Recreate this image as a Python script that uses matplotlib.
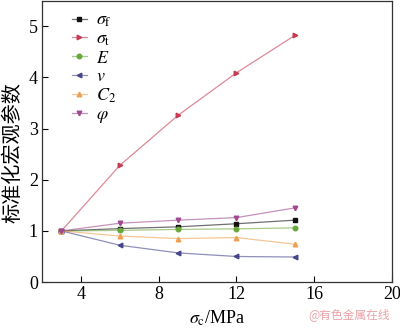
# -*- coding: utf-8 -*-
import numpy as np
import matplotlib
matplotlib.use('Agg')
import matplotlib.pyplot as plt

# ====================== Data ======================
sigma_c = [3, 6, 9, 12, 15]
sigma_f = [1.0, 1.045, 1.08, 1.14, 1.21]
sigma_t = [1.0, 2.28, 3.26, 4.09, 4.82]
E_mod = [1.0, 1.01, 1.03, 1.04, 1.06]
nu = [1.0, 0.72, 0.57, 0.50, 0.49]
C2 = [1.0, 0.90, 0.85, 0.87, 0.74]
phi = [1.0, 1.15, 1.21, 1.26, 1.45]

series = [
    (sigma_f, r'$\sigma_{\rm f}$', 's', '#111111'),
    (sigma_t, r'$\sigma_{\rm t}$', '>', '#c83a52'),
    (E_mod, r'$E$', 'o', '#6aa83c'),
    (nu, r'$v$', '<', '#45458a'),
    (C2, r'$C_2$', '^', '#f0a050'),
    (phi, r'$\varphi$', 'v', '#a04890'),
]

# ====================== Plot Settings ======================
plt.rcParams['font.family'] = ['Liberation Serif', 'Noto Sans CJK SC']
plt.rcParams['mathtext.fontset'] = 'stix'

fig = plt.figure(figsize=(4.0, 3.28), dpi=100)
ax = fig.add_axes([0.105, 0.14, 0.875, 0.858])

for vals, label, mk, c in series:
    rgb = matplotlib.colors.to_rgb(c)
    ax.plot(sigma_c, vals, color=(*rgb, 0.6), lw=0.9,
            marker=mk, markersize=3.3, markerfacecolor=c, markeredgecolor=c,
            label=label)

ax.set_xlim(2, 20)
ax.set_ylim(0, 5.5)
ax.set_xticks([4, 8, 12, 16, 20])
ax.set_yticks([0, 1, 2, 3, 4, 5])
ax.tick_params(direction='in', length=4, width=0.8, labelsize=13, pad=3)
for s in ax.spines.values():
    s.set_linewidth(0.9)
    s.set_color('#333333')

ax.set_xlabel(r'$\sigma_{\rm c}$/MPa', fontsize=13, labelpad=4)
ax.set_ylabel('标准化宏观参数', fontsize=14.5, family=['Noto Sans CJK SC'])
ax.yaxis.set_label_coords(-0.052, 0.46)

ax.legend(loc='upper left', bbox_to_anchor=(0.086, 0.96), frameon=False,
          fontsize=13, borderpad=0, borderaxespad=0, handlelength=0.8,
          handletextpad=0.5, labelspacing=0.08)

fig.text(0.77, 0.03, '@有色金属在线', fontsize=8.5, color='#eba3a8',
         family=['Noto Sans CJK SC'])

fig.savefig('out.png', dpi=100)
